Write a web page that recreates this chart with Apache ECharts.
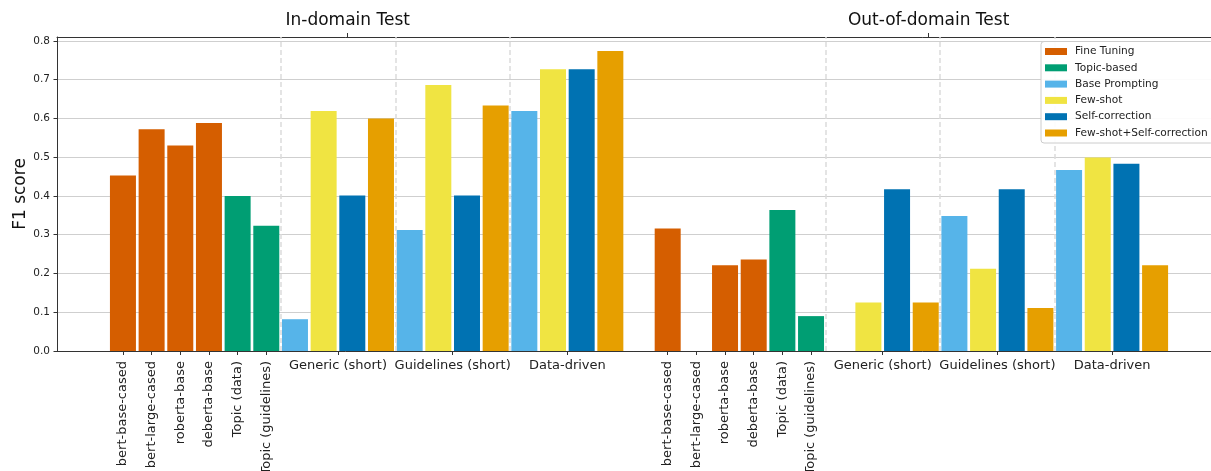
<!DOCTYPE html>
<html>
<head>
<meta charset="utf-8">
<script src="https://cdn.jsdelivr.net/npm/echarts@6/dist/echarts.min.js"></script>
<style>
  html, body { margin: 0; padding: 0; background: #fff; }
  #chart { width: 1211px; height: 471px; }
</style>
</head>
<body>
<div id="chart"></div>
<script>
const domains = ["In-domain Test", "Out-of-domain Test"];
const baselineModels = ["bert-base-cased", "bert-large-cased", "roberta-base", "deberta-base", "Topic (data)", "Topic (guidelines)"];
const baselineMethods = ["Fine Tuning", "Fine Tuning", "Fine Tuning", "Fine Tuning", "Topic-based", "Topic-based"];
const promptGroups = ["Generic (short)", "Guidelines (short)", "Data-driven"];
const promptMethods = ["Base Prompting", "Few-shot", "Self-correction", "Few-shot+Self-correction"];
const methods = ["Fine Tuning", "Topic-based", "Base Prompting", "Few-shot", "Self-correction", "Few-shot+Self-correction"];
const methodColors = ["#D55E00", "#009E73", "#56B4E9", "#F0E442", "#0072B2", "#E69F00"];

// F1 scores, in-domain
const inBaseline = [0.453, 0.572, 0.530, 0.588, 0.400, 0.323];
const inGeneric = [0.082, 0.619, 0.401, 0.600];
const inGuidelines = [0.312, 0.686, 0.401, 0.633];
const inDataDriven = [0.619, 0.727, 0.727, 0.774];
// F1 scores, out-of-domain
const outBaseline = [0.316, 0, 0.221, 0.236, 0.364, 0.090];
const outGeneric = [0, 0.125, 0.417, 0.125];
const outGuidelines = [0.348, 0.212, 0.417, 0.111];
const outDataDriven = [0.467, 0.499, 0.483, 0.221];

const yTicks = [0, 0.1, 0.2, 0.3, 0.4, 0.5, 0.6, 0.7, 0.8];

const baselineScores = [inBaseline, outBaseline];
const promptScores = [
  [inGeneric, inGuidelines, inDataDriven],
  [outGeneric, outGuidelines, outDataDriven],
];

// one slot per bar, one empty slot between the two test sets
const slotsPerDomain = baselineModels.length + promptGroups.length * promptMethods.length;
const domainGap = 1;
const xMin = -2.3;
const xMax = 37.95;
const titleAnchors = [7.84, 28.1];

const seriesData = {};
methods.forEach((m) => (seriesData[m] = []));
const modelTicks = [];
const groupTicks = [];
const separators = [];

domains.forEach((d, di) => {
  const start = di * (slotsPerDomain + domainGap);
  baselineModels.forEach((name, i) => {
    const x = start + i;
    seriesData[baselineMethods[i]].push([x, baselineScores[di][i]]);
    modelTicks.push({ x, name });
  });
  promptGroups.forEach((g, gi) => {
    const g0 = start + baselineModels.length + gi * promptMethods.length;
    separators.push(g0 - 0.5);
    promptMethods.forEach((m, mi) => {
      seriesData[m].push([g0 + mi, promptScores[di][gi][mi]]);
    });
    groupTicks.push({ x: g0 + (promptMethods.length - 1) / 2, name: g });
  });
});

const key = (v) => Number(v).toFixed(2);
const lookup = (list) => {
  const map = {};
  list.forEach((t) => (map[key(t.x)] = t.name));
  return (v) => map[key(v)] || "";
};
const modelLabel = lookup(modelTicks);
const groupLabel = lookup(groupTicks);
const titleLabel = lookup(titleAnchors.map((x, i) => ({ x, name: domains[i] })));

const font = "DejaVu Sans";
const ink = "#222";
const spine = { show: true, onZero: false, lineStyle: { color: "#333", width: 1 } };

const chart = echarts.init(document.getElementById("chart"), null, { renderer: "canvas" });

const option = {
  animation: false,
  backgroundColor: "#fff",
  textStyle: { fontFamily: font },
  grid: { left: 57, right: 0, top: 37, bottom: 120, containLabel: false, outerBoundsMode: "none" },
  legend: {
    data: methods,
    z: 10,
    orient: "vertical",
    left: 1041,
    top: 41.5,
    padding: [4, 6, 4, 4],
    itemWidth: 22,
    itemHeight: 7,
    itemGap: 4.3,
    icon: "rect",
    itemStyle: { borderWidth: 0 },
    backgroundColor: "rgba(255,255,255,0.92)",
    borderColor: "#cccccc",
    borderWidth: 1,
    borderRadius: 3,
    textStyle: { fontFamily: font, fontSize: 10.6, color: ink, lineHeight: 12, padding: [0, 0, 0, 3] },
  },
  xAxis: [
    {
      type: "value",
      position: "bottom",
      min: xMin,
      max: xMax,
      axisLine: spine,
      axisTick: { show: true, length: 4, lineStyle: { color: "#333" }, customValues: modelTicks.map((t) => t.x) },
      axisLabel: {
        customValues: modelTicks.map((t) => t.x),
        formatter: modelLabel,
        rotate: 90,
        margin: 10,
        fontSize: 13,
        color: ink,
        fontFamily: font,
      },
      splitLine: { show: false },
    },
    {
      type: "value",
      position: "bottom",
      min: xMin,
      max: xMax,
      axisLine: { show: false, onZero: false },
      axisTick: { show: true, length: 4, lineStyle: { color: "#333" }, customValues: groupTicks.map((t) => t.x) },
      axisLabel: {
        customValues: groupTicks.map((t) => t.x),
        formatter: groupLabel,
        margin: 8,
        fontSize: 13,
        color: ink,
        fontFamily: font,
      },
      splitLine: { show: false },
    },
    {
      type: "value",
      position: "top",
      min: xMin,
      max: xMax,
      axisLine: spine,
      axisTick: { show: true, length: 4, lineStyle: { color: "#333" }, customValues: titleAnchors },
      axisLabel: {
        customValues: titleAnchors,
        formatter: titleLabel,
        margin: 8,
        fontSize: 17,
        color: "#111",
        fontFamily: font,
      },
      splitLine: { show: false },
    },
  ],
  yAxis: {
    type: "value",
    min: 0,
    max: 0.81,
    interval: 0.1,
    name: "F1 score",
    nameLocation: "middle",
    nameGap: 28,
    nameMoveOverlap: false,
    nameTextStyle: { fontSize: 17, color: "#111", fontFamily: font },
    axisLine: { show: true, onZero: false, lineStyle: { color: "#333", width: 1 } },
    axisTick: { show: true, length: 3.5, lineStyle: { color: "#333" } },
    axisLabel: {
      showMaxLabel: false,
      formatter: (v) => (yTicks.some((t) => Math.abs(t - v) < 1e-6) ? v.toFixed(1) : ""),
      fontSize: 10.5,
      margin: 7,
      color: ink,
      fontFamily: font,
    },
    splitLine: { show: true, lineStyle: { color: "#cfcfcf", width: 1.2 } },
  },
  series: methods.map((m, i) => ({
    name: m,
    type: "bar",
    xAxisIndex: 0,
    yAxisIndex: 0,
    data: seriesData[m],
    barWidth: 26,
    barGap: "-100%",
    itemStyle: { color: methodColors[i] },
    markLine:
      i === 0
        ? {
            silent: true,
            symbol: ["none", "none"],
            label: { show: false },
            lineStyle: { type: [5, 3], width: 1.5, color: "#dcdcdc" },
            data: separators.map((x) => ({ xAxis: x })),
          }
        : undefined,
  })),
};

chart.setOption(option);
</script>
</body>
</html>
